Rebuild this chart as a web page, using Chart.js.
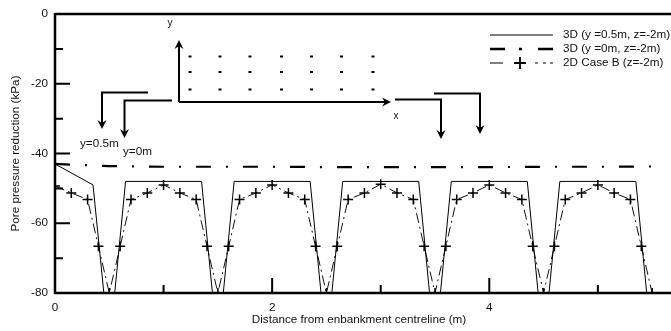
<!DOCTYPE html>
<html><head><meta charset="utf-8">
<script src="https://cdn.jsdelivr.net/npm/chart.js@4/dist/chart.umd.min.js"></script>
<style>html,body{margin:0;padding:0;background:#fff}#wrap{width:671px;height:331px;position:relative}</style>
</head><body><div id="wrap"><canvas id="c" width="671" height="331"></canvas></div>
<script>
// ---- Data ----
const seriesNames = ["3D (y =0.5m, z=-2m)", "3D (y =0m, z=-2m)", "2D Case B (z=-2m)"];

// 3D, y = 0.5 m (solid)
const x3D_y05 = [0, 0.35, 0.45, 0.55, 0.65, 1.35, 1.45, 1.55, 1.65, 2.35, 2.45, 2.55, 2.65,
                 3.35, 3.45, 3.55, 3.65, 4.35, 4.45, 4.55, 4.65, 5.35, 5.45, 5.6];
const y3D_y05 = [-43, -49, -80, -80, -48, -48, -80, -80, -48, -48, -80, -80, -48,
                 -48, -80, -80, -48, -48, -80, -80, -48, -48, -80, -80];

// 3D, y = 0 m (dash-dot)
const x3D_y0 = [0, 0.5, 1, 1.5, 2, 2.5, 3, 3.5, 4, 4.5, 5, 5.6];
const y3D_y0 = [-43, -43.6, -43.8, -43.8, -43.8, -43.9, -43.9, -43.9, -43.9, -43.8, -43.8, -43.7];

// 2D Case B (dashed with + markers)
const x2D = [0, 0.15, 0.3, 0.4, 0.5, 0.6, 0.7, 0.85, 1, 1.15, 1.3, 1.4, 1.5, 1.6, 1.7, 1.85,
             2, 2.15, 2.3, 2.4, 2.5, 2.6, 2.7, 2.85, 3, 3.15, 3.3, 3.4, 3.5, 3.6, 3.7, 3.85,
             4, 4.15, 4.3, 4.4, 4.5, 4.6, 4.7, 4.85, 5, 5.15, 5.3, 5.4, 5.5];
const y2D = [-49.3, -51.3, -53.2, -66.6, -80, -66.6, -53.2, -51.3, -49, -51.3, -53.2, -66.6, -80, -66.6, -53.2, -51.3,
             -49, -51.3, -53.2, -66.6, -80, -66.6, -53.2, -51.3, -48.8, -51.3, -53.2, -66.6, -80, -66.6, -53.2, -51.3,
             -49, -51.3, -53.2, -66.6, -80, -66.6, -53.2, -51.3, -49, -51.3, -53.2, -66.6, -80];

const xTicks = [0, 1, 2, 3, 4, 5];
const yTicks = [0, -10, -20, -30, -40, -50, -60, -70, -80];
const xTitle = "Distance from enbankment centreline (m)";
const yTitle = "Pore pressure reduction (kPa)";

const FONT = "'Liberation Sans', Arial, Helvetica, sans-serif";
const FS = 11.7;
const TXT = '#111';

function pts(xs, ys) { return xs.map((x, i) => ({ x: x, y: ys[i] })); }

const decor = {
  id: 'decor',
  afterDraw(chart) {
    const ctx = chart.ctx, ca = chart.chartArea;
    const xs = chart.scales.x, ys = chart.scales.y;
    ctx.save();
    ctx.strokeStyle = '#000'; ctx.fillStyle = TXT;
    // axes
    ctx.lineWidth = 2.5;
    ctx.beginPath();
    ctx.moveTo(ca.left, ca.top); ctx.lineTo(671, ca.top);
    ctx.moveTo(ca.left, ca.top - 1); ctx.lineTo(ca.left, ca.bottom + 1);
    ctx.moveTo(ca.left - 1, ca.bottom); ctx.lineTo(671, ca.bottom);
    ctx.stroke();
    // inward ticks
    ctx.lineWidth = 2;
    ctx.beginPath();
    yTicks.forEach(v => {
      const p = ys.getPixelForValue(v);
      const len = (v % 20 === 0) ? 15 : 8;
      ctx.moveTo(ca.left, p); ctx.lineTo(ca.left + len, p);
    });
    xTicks.forEach(v => {
      const p = xs.getPixelForValue(v);
      const len = (v % 2 === 0) ? 15 : 8;
      ctx.moveTo(p, ca.bottom); ctx.lineTo(p, ca.bottom - len);
    });
    ctx.stroke();
    // axis titles
    ctx.font = FS + 'px ' + FONT;
    ctx.textAlign = 'center'; ctx.textBaseline = 'middle';
    ctx.fillText(xTitle, (ca.left + ca.right) / 2, 320);
    ctx.save();
    ctx.translate(16, (ca.top + ca.bottom) / 2);
    ctx.rotate(-Math.PI / 2);
    ctx.fillText(yTitle, 0, 0);
    ctx.restore();

    // legend
    ctx.textAlign = 'left';
    const lx0 = 490, lx1 = 553, tx = 563, ly = [35, 49, 63];
    seriesNames.forEach((n, i) => ctx.fillText(n, tx, ly[i]));
    ctx.lineWidth = 1;
    ctx.beginPath(); ctx.moveTo(lx0, ly[0]); ctx.lineTo(lx1, ly[0]); ctx.stroke();
    ctx.lineWidth = 2.3;
    ctx.beginPath();
    ctx.moveTo(lx0, ly[1]); ctx.lineTo(lx0 + 15, ly[1]);
    ctx.moveTo(519, ly[1]); ctx.lineTo(522, ly[1]);
    ctx.moveTo(538, ly[1]); ctx.lineTo(lx1, ly[1]);
    ctx.stroke();
    ctx.strokeStyle = '#555'; ctx.lineWidth = 1.5;
    ctx.beginPath(); ctx.moveTo(lx0, ly[2]); ctx.lineTo(503, ly[2]);
    ctx.moveTo(535, ly[2]); ctx.lineTo(538, ly[2]);
    ctx.moveTo(543, ly[2]); ctx.lineTo(546, ly[2]);
    ctx.moveTo(550, ly[2]); ctx.lineTo(lx1, ly[2]);
    ctx.stroke();
    ctx.strokeStyle = '#000'; ctx.lineWidth = 1.8;
    ctx.beginPath(); ctx.moveTo(514, ly[2]); ctx.lineTo(526, ly[2]);
    ctx.moveTo(520, ly[2] - 6); ctx.lineTo(520, ly[2] + 6); ctx.stroke();

    // inset diagram
    ctx.fillStyle = '#000';
    function arrowHead(x, y, dir) {
      ctx.beginPath();
      if (dir === 'down') { ctx.moveTo(x, y); ctx.lineTo(x - 4.5, y - 9); ctx.lineTo(x, y - 6); ctx.lineTo(x + 4.5, y - 9); }
      else if (dir === 'up') { ctx.moveTo(x, y); ctx.lineTo(x - 4.5, y + 9); ctx.lineTo(x, y + 6); ctx.lineTo(x + 4.5, y + 9); }
      else { ctx.moveTo(x, y); ctx.lineTo(x - 9, y - 4.5); ctx.lineTo(x - 6, y); ctx.lineTo(x - 9, y + 4.5); }
      ctx.closePath(); ctx.fill();
    }
    ctx.lineWidth = 2;
    ctx.beginPath();
    ctx.moveTo(179, 102); ctx.lineTo(179, 44);
    ctx.moveTo(179, 102); ctx.lineTo(386, 102);
    // left bent arrows
    ctx.moveTo(148, 92.5); ctx.lineTo(102, 92.5); ctx.lineTo(102, 124);
    ctx.moveTo(172, 100.5); ctx.lineTo(124.5, 100.5); ctx.lineTo(124.5, 133);
    // right bent arrows
    ctx.moveTo(395, 99.5); ctx.lineTo(441, 99.5); ctx.lineTo(441, 134);
    ctx.moveTo(434, 93.5); ctx.lineTo(480, 93.5); ctx.lineTo(480, 129);
    ctx.stroke();
    arrowHead(179, 40, 'up');
    arrowHead(391, 102, 'right');
    arrowHead(102, 129, 'down');
    arrowHead(124.5, 138, 'down');
    arrowHead(441, 139, 'down');
    arrowHead(480, 134, 'down');
    // node dots
    [56.5, 72, 89.5].forEach(yy => {
      [190, 220, 250, 281.5, 311.5, 341.5, 373].forEach(xx => ctx.fillRect(xx - 1.5, yy - 1, 3, 2));
    });
    ctx.fillStyle = TXT;
    ctx.font = '10px ' + FONT;
    ctx.textAlign = 'center';
    ctx.fillText('y', 170, 23);
    ctx.fillText('x', 396, 116);
    ctx.font = FS + 'px ' + FONT;
    ctx.textAlign = 'left';
    ctx.fillText('y=0.5m', 80, 144);
    ctx.fillText('y=0m', 123, 152);
    ctx.restore();
  }
};

new Chart(document.getElementById('c'), {
  type: 'scatter',
  data: {
    datasets: [
      { label: seriesNames[0], data: pts(x3D_y05, y3D_y05), showLine: true, borderColor: '#000',
        borderWidth: 1, pointRadius: 0, fill: false },
      { label: seriesNames[1], data: pts(x3D_y0, y3D_y0), showLine: true, borderColor: '#000',
        borderWidth: 2.2, borderDash: [15, 15, 2, 15], pointRadius: 0, fill: false },
      { label: seriesNames[2], data: pts(x2D, y2D), showLine: true, borderColor: '#111',
        borderWidth: 1, borderDash: [10, 4, 2, 4], pointStyle: 'cross', pointRadius: 5,
        pointBorderWidth: 1.5, pointBorderColor: '#000', pointBackgroundColor: '#000', fill: false }
    ]
  },
  options: {
    responsive: false, animation: false, devicePixelRatio: 1,
    layout: { padding: { top: 13, right: 2, left: 0, bottom: 0 } },
    plugins: { legend: { display: false }, tooltip: { enabled: false } },
    scales: {
      x: {
        type: 'linear', min: 0, max: 5.6,
        grid: { display: false, drawTicks: false }, border: { display: false },
        ticks: { stepSize: 1, padding: 8, color: TXT, font: { family: FONT, size: FS },
          callback: v => (Number.isInteger(v) && v % 2 === 0) ? String(v) : '' },
        afterFit: s => { s.height = 38; }
      },
      y: {
        type: 'linear', min: -80, max: 0,
        grid: { display: false, drawTicks: false }, border: { display: false },
        ticks: { stepSize: 10, padding: 7, color: TXT, font: { family: FONT, size: FS },
          callback: v => (v % 20 === 0) ? String(v) : '' },
        afterFit: s => { s.width = 55; }
      }
    }
  },
  plugins: [decor]
});
</script>
</body></html>
